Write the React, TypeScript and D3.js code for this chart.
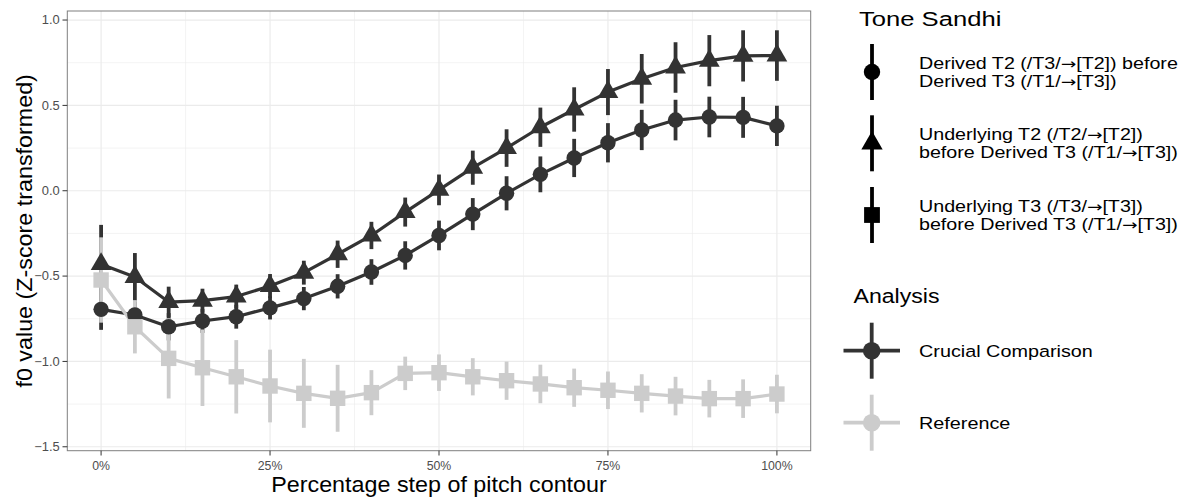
import React from 'react';
import * as d3 from 'd3';

// percentage steps along the pitch contour
const steps = [0, 5, 10, 15, 20, 25, 30, 35, 40, 45, 50, 55, 60, 65, 70, 75, 80, 85, 90, 95, 100];

// Derived T2 (/T3/->[T2]) before Derived T3 — circles
const derivedT2Mean = [-0.695, -0.728, -0.797, -0.763, -0.738, -0.686, -0.632, -0.56, -0.476, -0.379, -0.262, -0.137, -0.015, 0.096, 0.192, 0.281, 0.356, 0.414, 0.432, 0.43, 0.38];
const derivedT2Err = [0.12, 0.08, 0.08, 0.07, 0.07, 0.068, 0.068, 0.071, 0.075, 0.083, 0.087, 0.094, 0.1, 0.105, 0.112, 0.115, 0.118, 0.119, 0.119, 0.12, 0.118];

// Underlying T2 (/T2/->[T2]) before Derived T3 — triangles
const underlyingT2Mean = [-0.43, -0.505, -0.652, -0.644, -0.62, -0.558, -0.48, -0.372, -0.262, -0.125, 0.005, 0.135, 0.25, 0.372, 0.476, 0.578, 0.656, 0.722, 0.762, 0.79, 0.792];
const underlyingT2Err = [0.23, 0.14, 0.09, 0.07, 0.07, 0.07, 0.07, 0.08, 0.08, 0.085, 0.09, 0.1, 0.11, 0.115, 0.13, 0.135, 0.145, 0.148, 0.15, 0.15, 0.148];

// Underlying T3 (/T3/->[T3]) before Derived T3 — squares (reference)
const underlyingT3Mean = [-0.523, -0.797, -0.982, -1.037, -1.09, -1.144, -1.187, -1.216, -1.183, -1.07, -1.066, -1.09, -1.113, -1.132, -1.154, -1.169, -1.187, -1.203, -1.218, -1.218, -1.191];
const underlyingT3Err = [0.25, 0.156, 0.235, 0.224, 0.215, 0.213, 0.202, 0.196, 0.132, 0.098, 0.107, 0.109, 0.112, 0.113, 0.112, 0.11, 0.112, 0.113, 0.11, 0.113, 0.113];

const yTicks = [-1.5, -1.0, -0.5, 0.0, 0.5, 1.0];
const yMinor = [-1.25, -0.75, -0.25, 0.25, 0.75];
const xTicks = [0, 25, 50, 75, 100];
const xMinor = [12.5, 37.5, 62.5, 87.5];

const toneLabels = [
  ['Derived T2 (/T3/→[T2]) before', 'Derived T3 (/T1/→[T3])'],
  ['Underlying T2 (/T2/→[T2])', 'before Derived T3 (/T1/→[T3])'],
  ['Underlying T3 (/T3/→[T3])', 'before Derived T3 (/T1/→[T3])'],
];
const analysisLabels = ['Crucial Comparison', 'Reference'];

const DARK = '#333333';
const LIGHT = '#cccccc';
const FONT = '"Liberation Sans", Arial, Helvetica, sans-serif';

const series = [
  { name: 'derivedT2', shape: 'circle', color: DARK, mean: derivedT2Mean, err: derivedT2Err },
  { name: 'underlyingT2', shape: 'triangle', color: DARK, mean: underlyingT2Mean, err: underlyingT2Err },
  { name: 'underlyingT3', shape: 'square', color: LIGHT, mean: underlyingT3Mean, err: underlyingT3Err },
];

const R = 7.7; // base point radius (R pch geometry)

function Marker({ shape, x, y, color, r = R }: { shape: string; x: number; y: number; color: string; r?: number }) {
  if (shape === 'circle') return <circle cx={x} cy={y} r={r} fill={color} />;
  if (shape === 'square') return <rect x={x - r} y={y - r} width={2 * r} height={2 * r} fill={color} />;
  // triangle, centroid at (x, y)
  const top = 1.555 * r, half = 1.347 * r, base = 0.777 * r;
  return <path d={`M${x},${y - top}L${x + half},${y + base}L${x - half},${y + base}Z`} fill={color} />;
}

// arrows come out better from DejaVu
function withArrows(s: string) {
  const parts = s.split('→');
  return parts.flatMap((p, i) => i === 0 ? [p] : [<tspan key={i} fontFamily="DejaVu Sans" fontSize={15}>→</tspan>, p]);
}

// the reference text is set wider than Arial, so stretch it horizontally
function SText({ x, y, sx = 1, rotate = 0, anchor = 'start', size, fill = '#000', dy, children }: any) {
  return (
    <text transform={`translate(${x},${y}) rotate(${rotate}) scale(${sx},1)`} textAnchor={anchor} fontSize={size} fill={fill} dy={dy}>
      {children}
    </text>
  );
}

export default function App() {
  const left = 67.3, right = 810.7, top = 11, bottom = 450.7;
  const x = d3.scaleLinear().domain([-5, 105]).range([left, right]);
  const y = d3.scaleLinear().domain([-1.523, 1.053]).range([bottom, top]);

  const line = d3.line<number>()
    .x((_, i) => x(steps[i]))
    .y(d => y(d));

  const toneY = [72, 143.3, 215];
  const analysisY = [350.7, 422.7];
  const analysisColors = [DARK, LIGHT];

  return (
    <svg width={1193} height={498} style={{ position: 'absolute', left: 0, top: 0, background: '#fff' }} fontFamily={FONT}>
      <rect x={0} y={0} width={1193} height={498} fill="#fff" />

      {/* grid */}
      <g>
        {yMinor.map(v => <line key={'ym' + v} x1={left} x2={right} y1={y(v)} y2={y(v)} stroke="#ebebeb" strokeWidth={0.6} />)}
        {xMinor.map(v => <line key={'xm' + v} x1={x(v)} x2={x(v)} y1={top} y2={bottom} stroke="#ebebeb" strokeWidth={0.6} />)}
        {yTicks.map(v => <line key={'y' + v} x1={left} x2={right} y1={y(v)} y2={y(v)} stroke="#ebebeb" strokeWidth={1.2} />)}
        {xTicks.map(v => <line key={'x' + v} x1={x(v)} x2={x(v)} y1={top} y2={bottom} stroke="#ebebeb" strokeWidth={1.2} />)}
      </g>

      {/* lines */}
      {series.map(s => (
        <path key={'l' + s.name} d={line(s.mean) || ''} fill="none" stroke={s.color} strokeWidth={3.2} strokeLinejoin="round" />
      ))}

      {/* error bars */}
      {series.map(s => (
        <g key={'e' + s.name}>
          {s.mean.map((m, i) => (
            <line key={i} x1={x(steps[i])} x2={x(steps[i])} y1={y(m + s.err[i])} y2={y(m - s.err[i])} stroke={s.color} strokeWidth={3.8} />
          ))}
        </g>
      ))}

      {/* points */}
      {series.map(s => (
        <g key={'p' + s.name}>
          {s.mean.map((m, i) => <Marker key={i} shape={s.shape} x={x(steps[i])} y={y(m)} color={s.color} />)}
        </g>
      ))}

      {/* panel border */}
      <rect x={left} y={top} width={right - left} height={bottom - top} fill="none" stroke="#7f7f7f" strokeWidth={1} />

      {/* y axis */}
      {yTicks.map(v => (
        <g key={'yt' + v}>
          <line x1={left - 4.8} x2={left} y1={y(v)} y2={y(v)} stroke="#333" strokeWidth={1} />
          <SText x={left - 7.5} y={y(v)} dy="0.35em" anchor="end" size={12.3} sx={1.05} fill="#4d4d4d">{d3.format('.1f')(v)}</SText>
        </g>
      ))}
      {/* x axis */}
      {xTicks.map(v => (
        <g key={'xt' + v}>
          <line x1={x(v)} x2={x(v)} y1={bottom} y2={bottom + 4.8} stroke="#333" strokeWidth={1} />
          <SText x={x(v)} y={469.5} anchor="middle" size={12.3} fill="#4d4d4d">{v + '%'}</SText>
        </g>
      ))}

      <SText x={(left + right) / 2} y={491.5} anchor="middle" size={22} sx={1.06}>Percentage step of pitch contour</SText>
      <SText x={31.5} y={(top + bottom) / 2} rotate={-90} anchor="middle" size={22} sx={1.06}>f0 value (Z-score transformed)</SText>

      {/* legend: Tone Sandhi */}
      <SText x={859} y={25.5} size={21} sx={1.22}>Tone Sandhi</SText>
      {toneLabels.map((lines, i) => (
        <g key={'tone' + i}>
          <line x1={872} x2={872} y1={toneY[i] - 28} y2={toneY[i] + 28} stroke="#000" strokeWidth={3.8} />
          <Marker shape={series[i].shape} x={872} y={toneY[i]} color="#000" r={i === 0 ? 8.2 : 7.9} />
          <text transform={`translate(919,${toneY[i] - 3.2}) scale(1.23,1)`} fontSize={16} fill="#000">
            <tspan x={0} y={0}>{withArrows(lines[0])}</tspan>
            <tspan x={0} y={17.8}>{withArrows(lines[1])}</tspan>
          </text>
        </g>
      ))}

      {/* legend: Analysis */}
      <SText x={853.5} y={302.5} size={21} sx={1.1}>Analysis</SText>
      {analysisLabels.map((label, i) => (
        <g key={label}>
          <line x1={843.5} x2={900} y1={analysisY[i]} y2={analysisY[i]} stroke={analysisColors[i]} strokeWidth={3.8} />
          <line x1={871.7} x2={871.7} y1={analysisY[i] - 28} y2={analysisY[i] + 28} stroke={analysisColors[i]} strokeWidth={3.8} />
          <circle cx={871.7} cy={analysisY[i]} r={8.8} fill={analysisColors[i]} />
          <SText x={919} y={analysisY[i]} dy="0.36em" size={16.5} sx={1.2}>{label}</SText>
        </g>
      ))}
    </svg>
  );
}
